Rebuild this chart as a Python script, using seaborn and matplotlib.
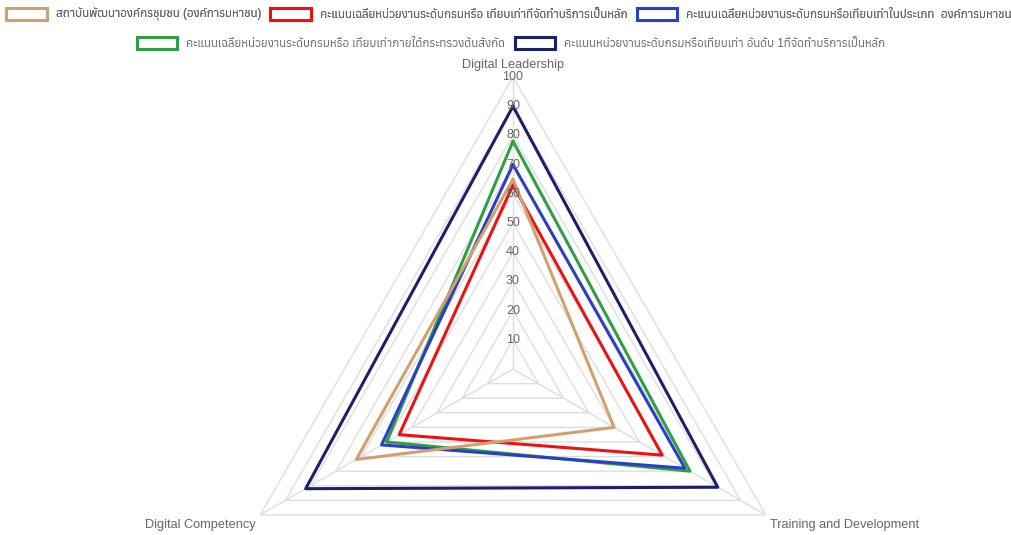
import numpy as np
import matplotlib
matplotlib.use("Agg")
import matplotlib.pyplot as plt
from matplotlib.patches import Patch
from matplotlib import font_manager, ft2font
import seaborn as sns

categories = ["Digital Leadership", "Training and Development", "Digital Competency"]
series_names = [
    "สถาบันพัฒนาองค์กรชุมชน (องค์การมหาชน)",
    "คะแนนเฉลี่ยหน่วยงานระดับกรมหรือ เทียบเท่าที่จัดทำบริการเป็นหลัก",
    "คะแนนเฉลี่ยหน่วยงานระดับกรมหรือเทียบเท่าในประเภท  องค์การมหาชน",
    "คะแนนเฉลี่ยหน่วยงานระดับกรมหรือ เทียบเท่าภายใต้กระทรวงต้นสังกัด",
    "คะแนนหน่วยงานระดับกรมหรือเทียบเท่า อันดับ 1ที่จัดทำบริการเป็นหลัก",
]
codi = [65, 40, 62]
avg_service = [63, 59, 45]
avg_public_org = [70, 68, 52]
avg_ministry = [78, 70, 50]
top_service = [90, 81, 82]
ticks = [10, 20, 30, 40, 50, 60, 70, 80, 90, 100]

colors = ["#D2A06E", "#EE1111", "#2B3FC4", "#2EA043", "#1C1F6B"]

sns.set_theme(style="white")

# look for a font with Thai glyphs
thai_fonts = []
for f in font_manager.fontManager.ttflist:
    try:
        if 0x0E2A in ft2font.FT2Font(f.fname).get_charmap():
            thai_fonts.append(f.name)
    except Exception:
        pass
thai_fonts = sorted(set(thai_fonts))
plt.rcParams["font.family"] = ["Liberation Sans"] + thai_fonts + ["DejaVu Sans"]

fig = plt.figure(figsize=(10.12, 5.35), dpi=100)
ax = fig.add_axes([0.2184, -0.2355, 0.577, 1.0916], projection="polar")
ax.set_theta_offset(np.pi / 2)
ax.set_theta_direction(-1)
ax.set_ylim(0, 100)
ax.set_xticks([])
ax.set_yticks([])
ax.spines["polar"].set_visible(False)
ax.grid(False)
ax.patch.set_alpha(0)

angles = np.linspace(0, 2 * np.pi, len(categories), endpoint=False)
closed = np.append(angles, angles[0])

# polygon grid + spokes
for t in ticks:
    ax.plot(closed, [t] * len(closed), color="#DEDEDE", lw=1, zorder=1)
for a in angles:
    ax.plot([a, a], [0, 100], color="#DEDEDE", lw=1, zorder=1)

data = [codi, avg_service, avg_public_org, avg_ministry, top_service]
for i, (vals, c) in enumerate(zip(data, colors)):
    ax.plot(closed, vals + vals[:1], color=c, lw=2.2, zorder=10 - i)

for t in ticks:
    ax.text(0, t, str(t), ha="center", va="center", fontsize=9, color="#666666", zorder=20)

offs = [(0, 4, "center", "bottom"), (3, -7, "left", "center"), (-3, -7, "right", "center")]
for a, lab, (dx, dy, ha, va) in zip(angles, categories, offs):
    ax.annotate(lab, xy=(a, 100), xytext=(dx, dy), textcoords="offset points",
                ha=ha, va=va, fontsize=9.2, color="#666666", annotation_clip=False)

handles = [Patch(facecolor="white", edgecolor=c, linewidth=2.2) for c in colors]
kw = dict(frameon=False, fontsize=8.3, handlelength=3.5, handleheight=1.2,
          handletextpad=0.8, columnspacing=0.8, labelcolor="#666666", loc="center")
leg1 = fig.legend(handles[:3], series_names[:3], ncol=3, bbox_to_anchor=(0.503, 0.973), **kw)
fig.add_artist(leg1)
fig.legend(handles[3:], series_names[3:], ncol=2, bbox_to_anchor=(0.505, 0.919), **kw)

fig.savefig("out.png", dpi=100)
